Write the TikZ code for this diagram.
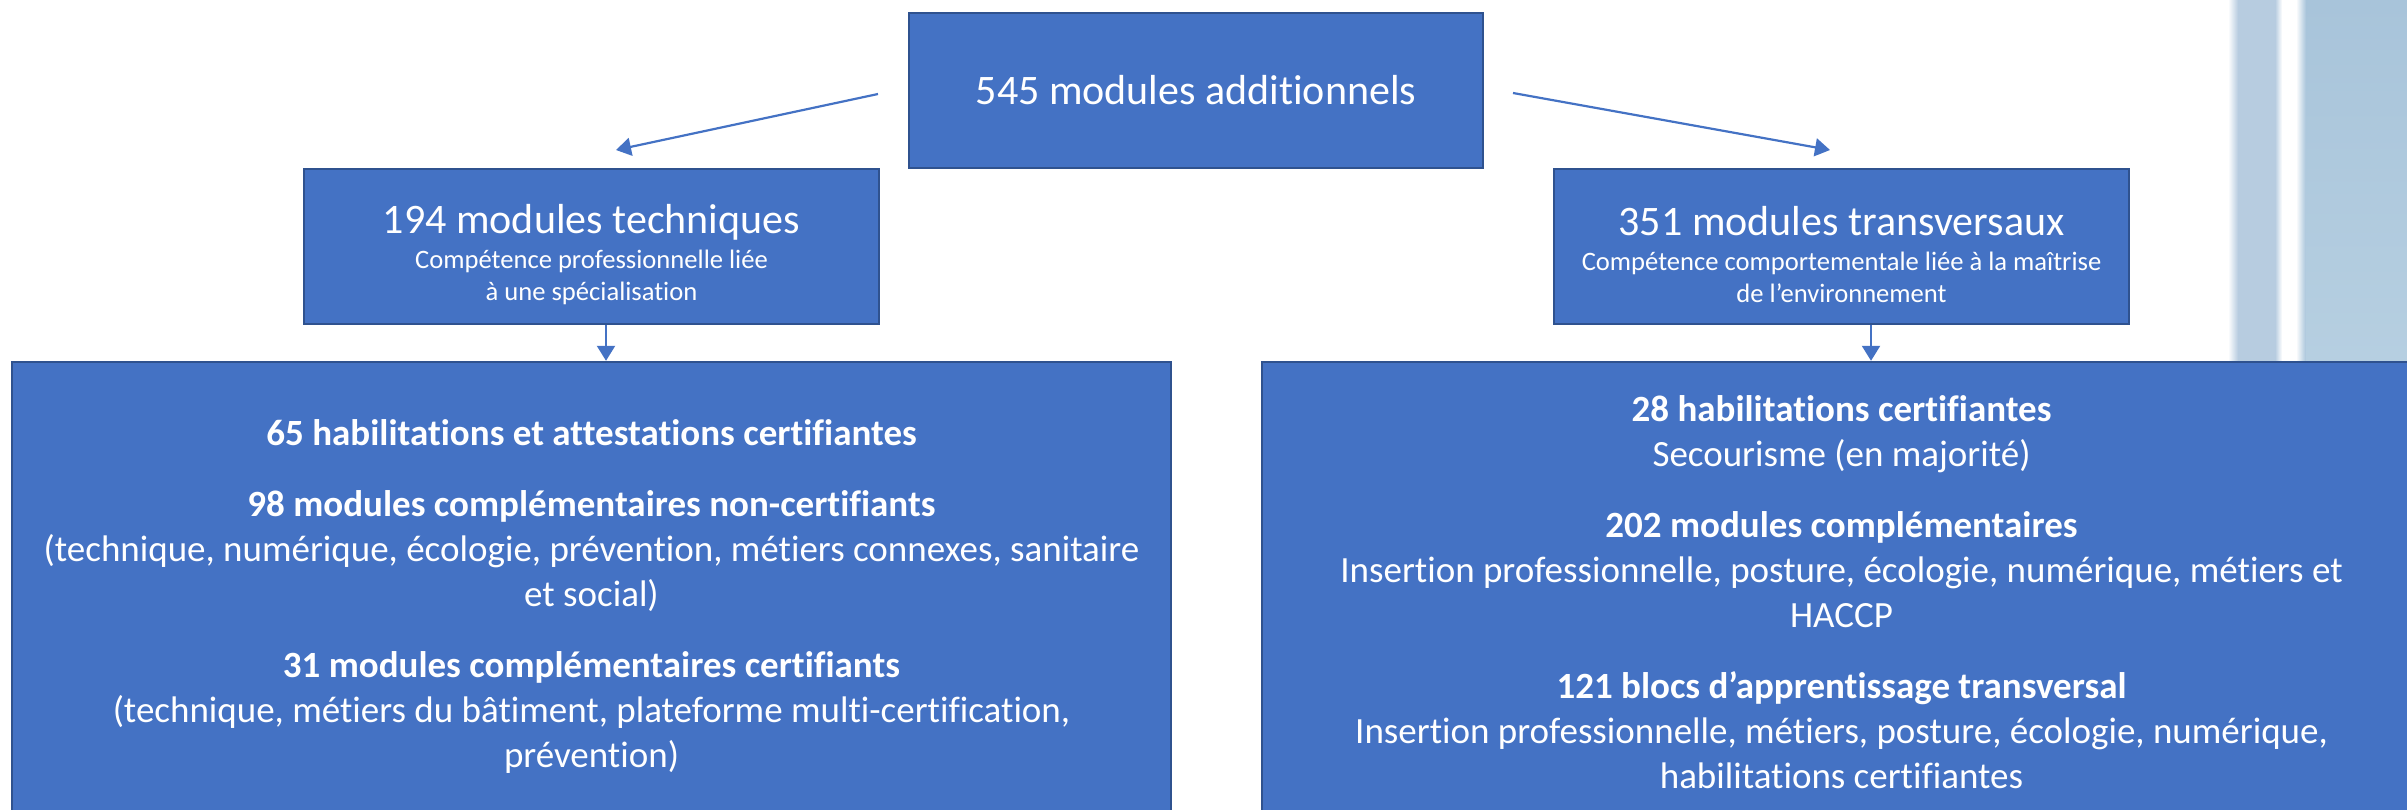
\documentclass[tikz,border=0pt]{standalone}
\usepackage{fontspec}
\setmainfont{Carlito}[Ligatures=CommonOff]
\usetikzlibrary{arrows.meta}
\definecolor{boxfill}{HTML}{4472C4}
\definecolor{boxline}{HTML}{2F528F}
\definecolor{decoA}{HTML}{B7CCE0}
\definecolor{decoB}{HTML}{A8C4DA}
\definecolor{decoC}{HTML}{B6CFE1}
\begin{document}
\begin{tikzpicture}[x=0.5pt,y=-0.5pt,
  box/.style={draw=boxline, fill=boxfill, line width=1.2pt, inner sep=0pt},
  txt/.style={text=white, align=center, inner sep=0pt},
  topbox/.style={box, text=white, minimum width=287pt, minimum height=77.5pt, font=\fontsize{21}{25}\selectfont},
  midbox/.style={box, minimum width=287.5pt, minimum height=77.5pt},
  midtext/.style={txt, font=\fontsize{13.3}{16}\selectfont},
  midtitle/.style={font=\fontsize{21}{25}\selectfont},
  bigbox/.style={box, minimum width=579.5pt, minimum height=230pt},
  bigtext/.style={txt, font=\fontsize{18.5}{22.5}\selectfont},
  link/.style={draw=boxfill, line width=1.1pt, -{Triangle[length=7.5pt,width=9pt]}},
]
\useasboundingbox (0,0) rectangle (2407,809);
\clip (0,0) rectangle (2407,809);

% decoration at the top right
\shade[left color=white, right color=decoA] (2228,0) rectangle (2238,362);
\fill[decoA] (2238,0) rectangle (2275,362);
\shade[left color=decoA, right color=white] (2275,0) rectangle (2282,362);
\shade[left color=white, right color=decoB] (2296,0) rectangle (2306,362);
\shade[top color=decoB, bottom color=decoC] (2306,0) rectangle (2407,362);

% boxes
\node[topbox] (top) at (1196,90.5) {545 modules additionnels};

\node[midbox] (lmid) at (591.5,246.5) {};
\node[midtext] (lmidt) at ([yshift=-4pt]lmid.center)
  {{\fontsize{21}{25}\selectfont 194 modules techniques}\\[1.5pt]
   Compétence professionnelle liée\\à une spécialisation};

\node[midbox] (rmid) at (1841.5,246.5) {};
\node[midtext] (rmidt) at ([yshift=-4pt]rmid.center)
  {{\fontsize{21}{25}\selectfont 351 modules transversaux}\\[1.5pt]
   Compétence comportementale liée à la maîtrise\\de l’environnement};

\node[bigbox] (lbig) at (591.5,592) {};
\node[bigtext] (lbigt) at ([yshift=-2pt]lbig.center)
  {\textbf{65 habilitations et attestations certifiantes}\\[13pt]
   \textbf{98 modules complémentaires non-certifiants}\\
   (technique, numérique, écologie, prévention, métiers connexes, sanitaire\\
   et social)\\[13pt]
   \textbf{31 modules complémentaires certifiants}\\
   (technique, métiers du bâtiment, plateforme multi-certification,\\
   prévention)};

\node[bigbox] (rbig) at (1841.5,592) {};
\node[bigtext] (rbigt) at (rbig.center)
  {\textbf{28 habilitations certifiantes}\\
   Secourisme (en majorité)\\[13pt]
   \textbf{202 modules complémentaires}\\
   Insertion professionnelle, posture, écologie, numérique, métiers et\\
   HACCP\\[13pt]
   \textbf{121 blocs d’apprentissage transversal}\\
   Insertion professionnelle, métiers, posture, écologie, numérique,\\
   habilitations certifiantes};

% connectors
\coordinate (a1s) at (878,94);
\coordinate (a1e) at (616,150);
\coordinate (a2s) at (1513,93);
\coordinate (a2e) at (1830,150);
\coordinate (lx) at (606,0);
\coordinate (rx) at (1871,0);
\draw[link] (a1s) -- (a1e);
\draw[link] (a2s) -- (a2e);
\draw[link] (lmid.south -| lx) -- (lbig.north -| lx);
\draw[link] (rmid.south -| rx) -- (rbig.north -| rx);
\end{tikzpicture}
\end{document}
